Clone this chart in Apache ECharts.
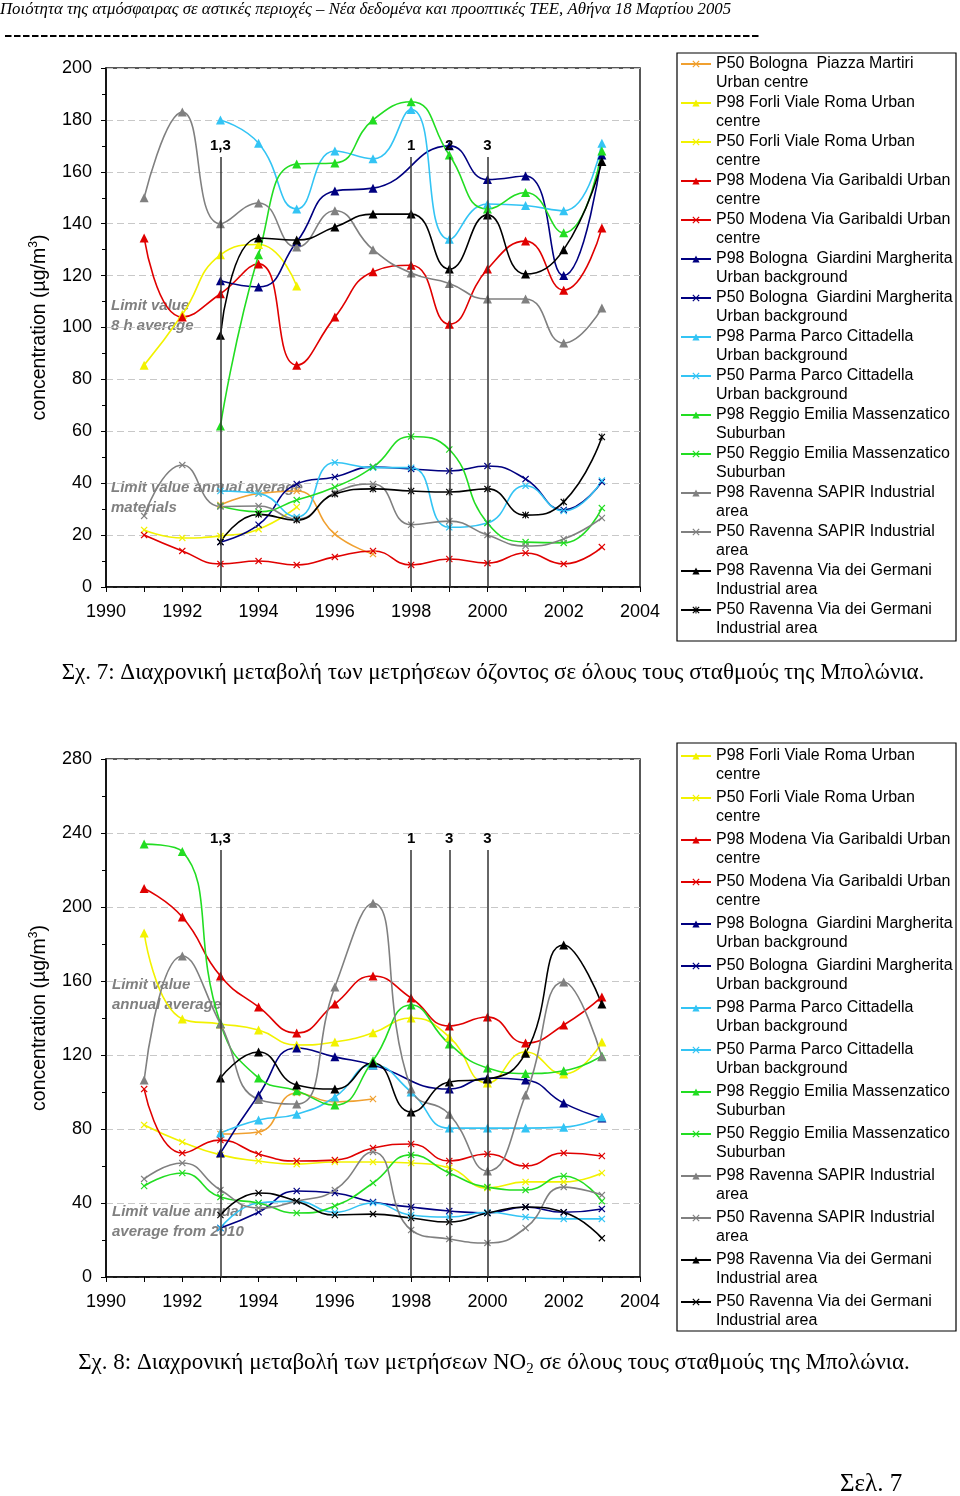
<!DOCTYPE html>
<html><head><meta charset="utf-8">
<script src="https://cdn.jsdelivr.net/npm/echarts@6/dist/echarts.min.js"></script>
<style>html,body{margin:0;padding:0;background:#fff}#c{width:960px;height:1496px}</style>
</head><body><div id="c"></div>
<script>
// ---------- DATA ----------
const years = [1991,1992,1993,1994,1995,1996,1997,1998,1999,2000,2001,2002,2003];
const xTicks = [1990,1992,1994,1996,1998,2000,2002,2004];

const names = [
 'P50 Bologna  Piazza Martiri\nUrban centre',
 'P98 Forli Viale Roma Urban\ncentre',
 'P50 Forli Viale Roma Urban\ncentre',
 'P98 Modena Via Garibaldi Urban\ncentre',
 'P50 Modena Via Garibaldi Urban\ncentre',
 'P98 Bologna  Giardini Margherita\nUrban background',
 'P50 Bologna  Giardini Margherita\nUrban background',
 'P98 Parma Parco Cittadella\nUrban background',
 'P50 Parma Parco Cittadella\nUrban background',
 'P98 Reggio Emilia Massenzatico\nSuburban',
 'P50 Reggio Emilia Massenzatico\nSuburban',
 'P98 Ravenna SAPIR Industrial\narea',
 'P50 Ravenna SAPIR Industrial\narea',
 'P98 Ravenna Via dei Germani\nIndustrial area',
 'P50 Ravenna Via dei Germani\nIndustrial area'
];

// Ozone (Fig. 7)
const o3_P50_BolognaPM = [null,null,31.6,36,37,20.4,12.7,null,null,null,null,null,null];
const o3_P98_Forli     = [85.5,105,128,132,116,null,null,null,null,null,null,null,null];
const o3_P50_Forli     = [22,18.9,19.7,22.3,30.8,null,null,null,null,null,null,null,null];
const o3_P98_Modena    = [134.5,104,113,124.5,85.5,104,121.5,124,101.3,122.5,133.3,114.4,138.3];
const o3_P50_Modena    = [20,13.9,8.9,10,8.5,11.6,13.9,8.5,10.8,9.2,13.1,8.9,15.4];
const o3_P98_BolognaGM = [null,null,118,115.6,133,152.6,153.7,null,170,157,158.4,120,166.5];
const o3_P50_BolognaGM = [null,null,17.3,24,39.7,42.4,46.2,45.5,44.7,46.6,41.6,29.7,40.5];
const o3_P98_Parma     = [null,null,180,171,145.7,168,165,184,134,147.6,147,145,171];
const o3_P50_Parma     = [null,null,37,36,27,48,46,46,23,24.7,39,29.3,41];
const o3_P98_Reggio    = [null,null,62,128,163,163.4,180,187,166.5,145.7,152,136.5,168];
const o3_P50_Reggio    = [null,null,31.2,29,33.5,38.5,46.2,58,53,24.7,17.3,17,30.4];
const o3_P98_Sapir     = [150,183,140,148,131,145,130,121,117,111,111,94,107.5];
const o3_P50_Sapir     = [27.4,47,31,31.2,26.2,36.3,39.7,24,25.4,20,15.8,18.5,26.6];
const o3_P98_Germani   = [null,null,97,134.5,133.7,138.7,143.7,143.7,122.5,143.4,120.6,130,164];
const o3_P50_Germani   = [null,null,17.3,28,25.8,35.8,37.8,37,36.6,37.8,27.7,32.8,57.8];

// NO2 (Fig. 8)
const no2_P50_BolognaPM = [null,null,77.3,78.4,99.5,94.6,96.2,null,null,null,null,null,null];
const no2_P98_Forli     = [186,139.5,136.8,133.5,125.4,127,132,140,129.7,104.9,121.6,109.7,127];
const no2_P50_Forli     = [82.2,73,66,62.7,61,62.2,62.2,61.6,59,48.1,51.4,51.4,56.2];
const no2_P98_Modena    = [210,194.6,162.7,146,131.9,147.6,162.7,150.8,135.7,140.5,126.5,136.2,151.4];
const no2_P50_Modena    = [101.6,67,74,66.5,62.7,63.2,69.7,71.9,62.7,66.5,60,67,65.4];
const no2_P98_BolognaGM = [null,null,67,98.4,123.8,119,114.6,null,101.6,107.6,106.5,94,86];
const no2_P50_BolognaGM = [null,null,26.5,35,46.5,45.4,40.5,37.8,35.7,34.6,37.8,35,36.8];
const no2_P98_Parma     = [null,null,77.8,84.9,88,97.3,114.6,100,80.5,80.5,80.5,81,86.5];
const no2_P50_Parma     = [null,null,26.5,40,41,35,40,33.5,32.4,35,32.4,31.4,31.4];
const no2_P98_Reggio    = [234,230,137,107.6,100.7,93,117,147,126,113,110,111.5,119.5];
const no2_P50_Reggio    = [49.2,56.2,43.2,40,34.6,38.4,50.8,66,56.2,48.6,47,54.6,41];
const no2_P98_Sapir     = [106.5,173.5,136.8,96,93.5,156.8,202,101.6,88,57.3,98.4,159.5,119];
const no2_P50_Sapir     = [53,61.6,47,37.3,41,47,67.6,25.4,20.5,18.4,26.5,48.6,44.3];
const no2_P98_Germani   = [null,null,107.6,121.6,103.8,101.6,115.7,89.2,105.4,107,121,179.5,147.6];
const no2_P50_Germani   = [null,null,33.5,45.4,41,33.5,34,31.9,29.7,34.6,37.8,35,21];

// event markers (vertical lines)
const o3Events  = [{year:1993,label:'1,3'},{year:1998,label:'1'},{year:1999,label:'2'},{year:2000,label:'3'}];
const no2Events = [{year:1993,label:'1,3'},{year:1998,label:'1'},{year:1999,label:'3'},{year:2000,label:'3'}];

// ---------- STYLE ----------
const C = {orange:'#f0a030', yellow:'#f2f200', red:'#e00000', navy:'#000080', cyan:'#33c4f4', green:'#22dd22', gray:'#808080', black:'#000000'};
const XSYM = 'path://M0,1.2L1.2,0L5,3.8L8.8,0L10,1.2L6.2,5L10,8.8L8.8,10L5,6.2L1.2,10L0,8.8L3.8,5Z';
const STAR = 'path://M0,1.2L1.2,0L5,3.8L8.8,0L10,1.2L6.2,5L10,8.8L8.8,10L5,6.2L1.2,10L0,8.8L3.8,5ZM4.3,0L5.7,0L5.7,10L4.3,10Z';
const colors = [C.orange,C.yellow,C.yellow,C.red,C.red,C.navy,C.navy,C.cyan,C.cyan,C.green,C.green,C.gray,C.gray,C.black,C.black];
const symsTop = [XSYM,'triangle',XSYM,'triangle',XSYM,'triangle',XSYM,'triangle',XSYM,'triangle',XSYM,'triangle',XSYM,'triangle',STAR];
const symsBot = [XSYM,'triangle',XSYM,'triangle',XSYM,'triangle',XSYM,'triangle',XSYM,'triangle',XSYM,'triangle',XSYM,'triangle',XSYM];

const o3Sets = [o3_P50_BolognaPM,o3_P98_Forli,o3_P50_Forli,o3_P98_Modena,o3_P50_Modena,o3_P98_BolognaGM,o3_P50_BolognaGM,o3_P98_Parma,o3_P50_Parma,o3_P98_Reggio,o3_P50_Reggio,o3_P98_Sapir,o3_P50_Sapir,o3_P98_Germani,o3_P50_Germani];
const no2Sets = [no2_P50_BolognaPM,no2_P98_Forli,no2_P50_Forli,no2_P98_Modena,no2_P50_Modena,no2_P98_BolognaGM,no2_P50_BolognaGM,no2_P98_Parma,no2_P50_Parma,no2_P98_Reggio,no2_P50_Reggio,no2_P98_Sapir,no2_P50_Sapir,no2_P98_Germani,no2_P50_Germani];

const FONT = 'Liberation Sans';
const SERIF = 'Liberation Serif';

function mk(name, color, sym, vals, gi) {
  return {
    name, type:'line', xAxisIndex:gi, yAxisIndex:gi,
    data: years.map((y,i)=>[y, vals[i]]),
    smooth:0.5, connectNulls:true,
    symbol:sym, symbolSize: sym==='triangle'?9:7, showAllSymbol:true,
    lineStyle:{color, width:1.6}, itemStyle:{color},
    z:3, silent:true
  };
}
function vlines(events, gi, top) {
  return {
    type:'line', name:'_v'+gi, xAxisIndex:gi, yAxisIndex:gi, data:[], silent:true, z:2,
    markLine:{
      silent:true, symbol:['none','none'], animation:false,
      lineStyle:{color:'#333', width:1.5, type:'solid'},
      label:{show:true, position:'end', formatter:'{b}', fontFamily:FONT, fontSize:15, fontWeight:'bold', color:'#000', distance:4},
      data: events.map(e=>[{coord:[e.year,0], name:e.label},{coord:[e.year,top]}])
    }
  };
}

const series = [];
names.forEach((n,i)=>series.push(mk(n, colors[i], symsTop[i], o3Sets[i], 0)));
names.forEach((n,i)=>series.push(mk(n+' ', colors[i], symsBot[i], no2Sets[i], 1)));
series.push(vlines(o3Events, 0, 165.7));
series.push(vlines(no2Events, 1, 230.8));

function xAx(gi){
  return {type:'value', gridIndex:gi, min:1990, max:2004, interval:1,
    axisLine:{lineStyle:{color:'#000', width:1.5}},
    axisTick:{show:true, length:5, lineStyle:{color:'#000', width:1}},
    axisLabel:{fontFamily:FONT, fontSize:18, color:'#000', margin:16,
      formatter:v=> xTicks.indexOf(v)>=0 ? String(v) : ''},
    splitLine:{show:false}};
}
function yAx(gi,max,interval){
  return {type:'value', gridIndex:gi, min:0, max, interval,
    name:'concentration (µg/m{s|3})', nameLocation:'middle', nameGap:54, nameMoveOverlap:false,
    nameTextStyle:{fontFamily:FONT, fontSize:19.5, color:'#000', lineHeight:24, rich:{s:{fontSize:12, fontFamily:FONT, color:'#000', verticalAlign:'top'}}},
    axisLine:{show:true, lineStyle:{color:'#000', width:1.5}},
    axisTick:{show:true, length:5, lineStyle:{color:'#000', width:1}},
    minorTick:{show:true, splitNumber:2, length:4, lineStyle:{color:'#000', width:1}},
    axisLabel:{fontFamily:FONT, fontSize:18, color:'#000', margin:14},
    splitLine:{show:true, lineStyle:{color:'#c8c8c8', type:[7,4], width:1}}};
}

const legTS = (lh)=>({fontFamily:FONT, fontSize:16, color:'#000', lineHeight:lh});

const option = {
  animation:false,
  backgroundColor:'#fff',
  grid:[
    {left:106, top:68, width:534, height:519, show:true, borderColor:'#222', borderWidth:1.5, backgroundColor:'transparent'},
    {left:106, top:759, width:534, height:518, show:true, borderColor:'#222', borderWidth:1.5, backgroundColor:'transparent'}
  ],
  xAxis:[xAx(0), xAx(1)],
  yAxis:[yAx(0,200,20), yAx(1,280,40)],
  legend:[
    {orient:'vertical', left:680, top:36.25, itemWidth:30, itemHeight:9, itemGap:-16.5, padding:0,
     selectedMode:false, data:names, formatter:n=>' \n'+n, textStyle:legTS(18.5)},
    {orient:'vertical', left:680, top:727.5, itemWidth:30, itemHeight:9, itemGap:-15, padding:0,
     selectedMode:false, data:names.slice(1).map(n=>n+' '), formatter:n=>' \n'+n, textStyle:legTS(19)}
  ],
  graphic:[
    {type:'text', left:0, top:1, z:0, style:{text:'Ποιότητα της ατμόσφαιρας σε αστικές περιοχές – Νέα δεδομένα και προοπτικές ΤΕΕ, Αθήνα 18 Μαρτίου 2005', font:'italic 16.8px "Liberation Serif"', fill:'#000'}},
    {type:'line', z:0, shape:{x1:5, y1:36, x2:760, y2:36}, style:{stroke:'#000', lineWidth:2, lineDash:[6.5,2.5]}},
    {type:'rect', z:0, shape:{x:677, y:53, width:279, height:588}, style:{fill:'none', stroke:'#000', lineWidth:1.2}},
    {type:'rect', z:0, shape:{x:677, y:743, width:279, height:588}, style:{fill:'none', stroke:'#000', lineWidth:1.2}},
    {type:'text', x:111, y:296, z:0, style:{text:'Limit value\n8 h average', font:'italic bold 15px "Liberation Sans"', fill:'#808080', lineHeight:20}},
    {type:'text', x:111, y:478, z:0, style:{text:'Limit value annual average\nmaterials', font:'italic bold 15px "Liberation Sans"', fill:'#808080', lineHeight:20}},
    {type:'text', x:112, y:975, z:0, style:{text:'Limit value\nannual average', font:'italic bold 15px "Liberation Sans"', fill:'#808080', lineHeight:20}},
    {type:'text', x:112, y:1202, z:0, style:{text:'Limit value annual\naverage from 2010', font:'italic bold 15px "Liberation Sans"', fill:'#808080', lineHeight:20}},
    {type:'text', x:493, y:673, z:0, style:{text:'Σχ. 7: Διαχρονική μεταβολή των μετρήσεων όζοντος σε όλους τους σταθμούς της Μπολώνια.', font:'23px "Liberation Serif"', fill:'#000', align:'center', verticalAlign:'middle'}},
    {type:'text', x:494, y:1363, z:0, style:{text:'Σχ. 8: Διαχρονική μεταβολή των μετρήσεων NO{sub|2} σε όλους τους σταθμούς της Μπολώνια.', font:'23px "Liberation Serif"', fill:'#000', align:'center', verticalAlign:'middle', lineHeight:28, rich:{sub:{fontSize:15, fontFamily:SERIF, verticalAlign:'bottom', fill:'#000'}}}},
    {type:'text', x:840, y:1484, z:0, style:{text:'Σελ. 7', font:'25px "Liberation Serif"', fill:'#000', verticalAlign:'middle'}}
  ],
  series
};
const chart = echarts.init(document.getElementById('c'), null, {renderer:'canvas'});
chart.setOption(option);
</script></body></html>
